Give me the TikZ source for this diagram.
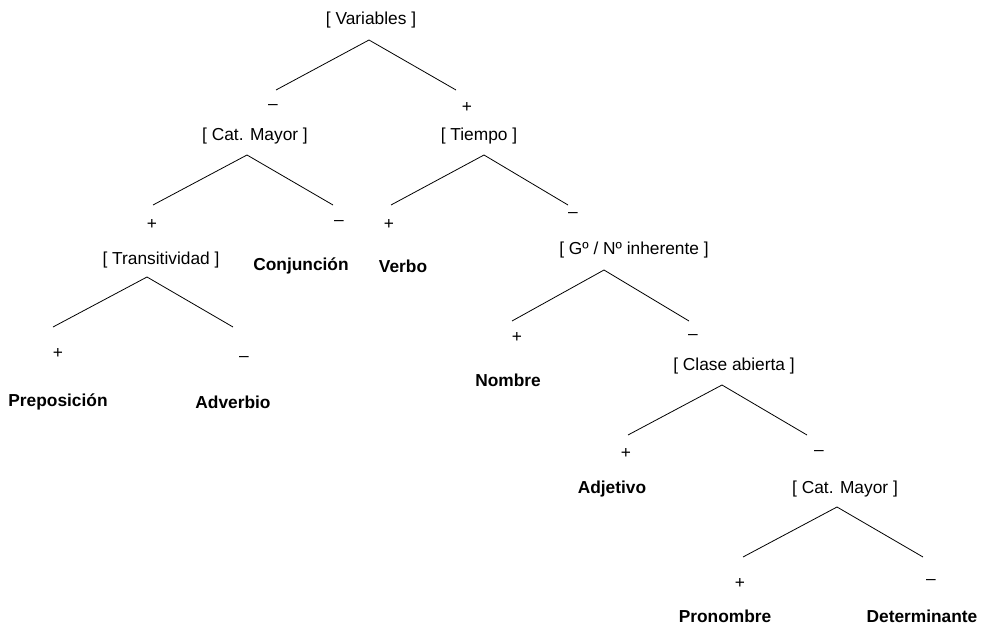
\documentclass[tikz,border=0pt]{standalone}
\usepackage{fontspec}
\setmainfont{Liberation Sans}
\begin{document}
\begin{tikzpicture}[x=0.75pt,y=-0.75pt,
  feat/.style={inner sep=0pt,font=\fontsize{13}{15}\selectfont},
  cat/.style={inner sep=0pt,font=\fontsize{13}{15}\selectfont\bfseries},
  sign/.style={inner sep=0pt,font=\fontsize{13}{15}\selectfont},
  branch/.style={line width=0.6pt,black}]
\useasboundingbox (0,0) rectangle (981,624);

% feature nodes
\node[feat] (var)   at (371,20)  {[ Variables ]};
\node[feat] (cmay)  at (255,136) {[ Cat. Mayor ]};
\node[feat] (tiem)  at (479,136) {[ Tiempo ]};
\node[feat] (trans) at (161,260) {[ Transitividad ]};
\node[feat] (gn)    at (634,250) {[ Gº / Nº inherente ]};
\node[feat] (clase) at (734,366) {[ Clase abierta ]};
\node[feat] (cmay2) at (845,489) {[ Cat. Mayor ]};

% terminal categories
\node[cat] (conj)  at (301,266) {Conjunción};
\node[cat] (verbo) at (403,266) {Verbo};
\node[cat] (prep)  at (58,402)  {Preposición};
\node[cat] (adv)   at (233,402) {Adverbio};
\node[cat] (nom)   at (508,380) {Nombre};
\node[cat] (adj)   at (612,489) {Adjetivo};
\node[cat] (pron)  at (725,616) {Pronombre};
\node[cat] (det)   at (922,616) {Determinante};

% feature values
\node[sign] (s1m) at (273,107) {–};
\node[sign] (s1p) at (467,107) {+};
\node[sign] (s2p) at (152,224) {+};
\node[sign] (s2m) at (339,223) {–};
\node[sign] (s3p) at (389,224) {+};
\node[sign] (s3m) at (573,215) {–};
\node[sign] (s4p) at (58,353)  {+};
\node[sign] (s4m) at (244,359) {–};
\node[sign] (s5p) at (517,337) {+};
\node[sign] (s5m) at (693,337) {–};
\node[sign] (s6p) at (626,453) {+};
\node[sign] (s6m) at (819,453) {–};
\node[sign] (s7p) at (740,583) {+};
\node[sign] (s7m) at (931,582) {–};

% branch points
\coordinate (a1) at (369,40);   \coordinate (l1) at (276,90);  \coordinate (r1) at (456,90);
\coordinate (a2) at (247,155);  \coordinate (l2) at (153,205); \coordinate (r2) at (333,205);
\coordinate (a3) at (484,155);  \coordinate (l3) at (391,205); \coordinate (r3) at (568,205);
\coordinate (a4) at (147,277);  \coordinate (l4) at (53,327);  \coordinate (r4) at (233,327);
\coordinate (a5) at (604,270);  \coordinate (l5) at (512,321); \coordinate (r5) at (689,321);
\coordinate (a6) at (722,385);  \coordinate (l6) at (628,435); \coordinate (r6) at (807,435);
\coordinate (a7) at (837,507);  \coordinate (l7) at (743,557); \coordinate (r7) at (923,557);

\draw[branch] (l1) -- (a1) -- (r1);
\draw[branch] (l2) -- (a2) -- (r2);
\draw[branch] (l3) -- (a3) -- (r3);
\draw[branch] (l4) -- (a4) -- (r4);
\draw[branch] (l5) -- (a5) -- (r5);
\draw[branch] (l6) -- (a6) -- (r6);
\draw[branch] (l7) -- (a7) -- (r7);
\end{tikzpicture}
\end{document}
